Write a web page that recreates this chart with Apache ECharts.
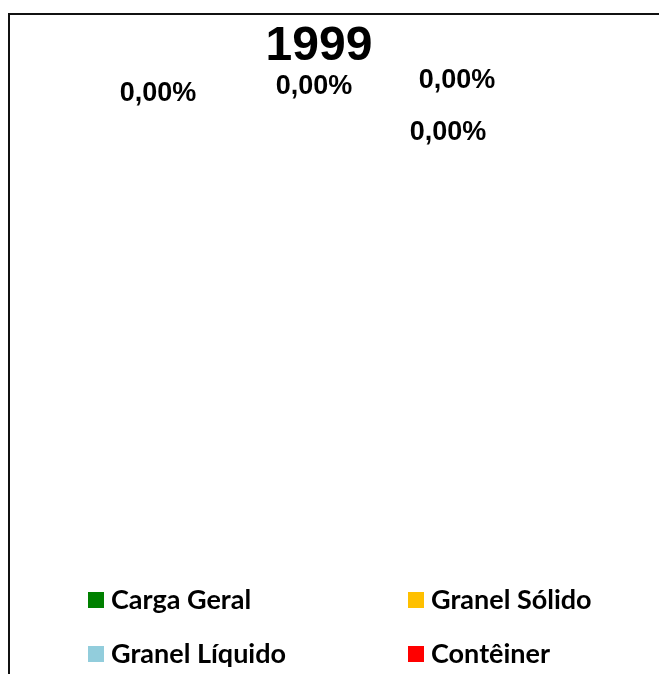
<!DOCTYPE html>
<html><head><meta charset="utf-8">
<script src="https://cdn.jsdelivr.net/npm/echarts@6/dist/echarts.min.js"></script>
<style>html,body{margin:0;padding:0;background:#fff}#c{width:659px;height:674px}</style>
</head><body><div id="c"></div>
<script>
var titleText = '1999';
var categories = ['Carga Geral', 'Granel Sólido', 'Granel Líquido', 'Contêiner'];
var values = [0, 0, 0, 0];
var colors = ['#008000', '#FFC000', '#92CDDC', '#FF0000'];

var labelPos = [[158, 94], [314, 87], [457, 81], [448, 133]];
var legendPos = [[88, 586], [408, 586], [88, 640], [408, 640]];
var total = values.reduce(function (a, b) { return a + b; }, 0);
function pct(v) {
  var p = total ? v / total * 100 : 0;
  return p.toFixed(2).replace('.', ',') + '%';
}

var chart = echarts.init(document.getElementById('c'));
var legendText = { fontFamily: 'Lato', fontWeight: 'bold', fontSize: 27, color: '#000', lineHeight: 28, padding: [0, 0, 0, 2] };
chart.setOption({
  animation: false,
  title: { text: titleText, left: 314, top: 18, textAlign: 'center',
    textStyle: { fontFamily: 'Liberation Sans, Arial', fontWeight: 'bold', fontSize: 48, color: '#000' } },
  graphic: [{ type: 'rect', shape: { x: 9, y: 14, width: 800, height: 800 },
    style: { fill: 'none', stroke: '#111', lineWidth: 2 }, silent: true }],
  legend: categories.map(function (c, i) {
    return { left: legendPos[i][0], top: legendPos[i][1], itemWidth: 16, itemHeight: 16, itemGap: 6,
      padding: 0, icon: 'rect', textStyle: legendText, selectedMode: false,
      data: [{ name: c, itemStyle: { color: colors[i], opacity: 1 } }] };
  }),
  series: [{
    type: 'pie', radius: '30%', center: ['50%', '45%'], silent: true,
    stillShowZeroSum: true, showEmptyCircle: false,
    labelLine: { show: false },
    label: { show: true, formatter: function (p) { return pct(p.value); },
      fontFamily: 'Liberation Sans, Arial', fontWeight: 'bold', fontSize: 27, color: '#000', opacity: 1 },
    labelLayout: function (p) {
      var pos = labelPos[p.dataIndex];
      return { x: pos[0], y: pos[1], align: 'center', verticalAlign: 'middle' };
    },
    data: categories.map(function (c, i) { return { name: c, value: values[i], itemStyle: { color: 'rgba(0,0,0,0)', borderWidth: 0 } }; })
  }]
});
</script></body></html>
